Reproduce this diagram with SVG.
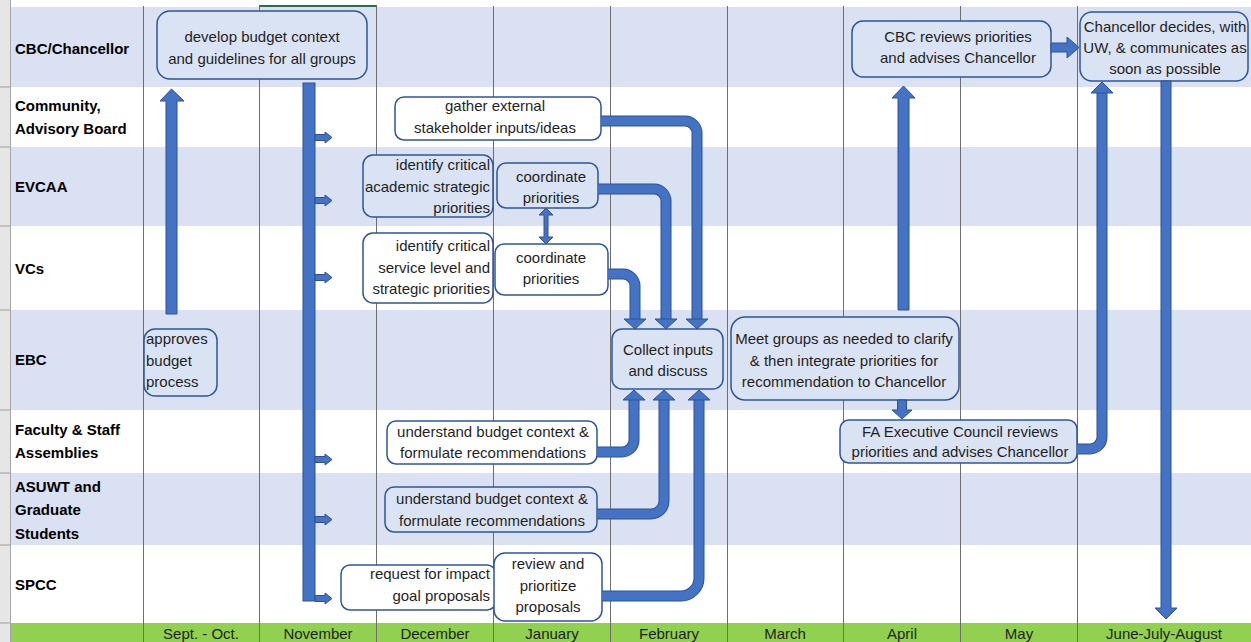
<svg xmlns="http://www.w3.org/2000/svg" width="1251" height="642" viewBox="0 0 1251 642">
<defs>
<style>
.sh{fill:#D9E1F2}
.wh{fill:#FFFFFF}
.grid{stroke:#6E6E6E;stroke-width:1;fill:none}
.lbl{font-family:"Liberation Sans",Arial,sans-serif;font-size:15px;font-weight:bold;fill:#000}
.t{font-family:"Liberation Sans",Arial,sans-serif;font-size:15px;fill:#1F1F1F;text-anchor:middle}
.tr{text-anchor:end}
.tl{text-anchor:start}
.box{stroke:#2F5597;stroke-width:1.5}
.bf{fill:#DAE3F3}
.wf{fill:#FFFFFF}
.co{fill:none;stroke:#2F528F;stroke-width:11}
.ci{fill:none;stroke:#4472C4;stroke-width:9}
.ah{fill:#4472C4;stroke:#2F528F;stroke-width:1;stroke-linejoin:miter}
.mon{font-family:"Liberation Sans",Arial,sans-serif;font-size:15px;fill:#1F1F1F;text-anchor:middle}
</style>
</defs>

<!-- background rows -->
<g id="background">
<rect x="0" y="0" width="1251" height="642" fill="#FFFFFF"/>
<rect x="11" y="7" width="1240" height="80" class="sh"/>
<rect x="11" y="87" width="1240" height="60" class="wh"/>
<rect x="11" y="147" width="1240" height="79" class="sh"/>
<rect x="11" y="226" width="1240" height="84" class="wh"/>
<rect x="11" y="310" width="1240" height="100" class="sh"/>
<rect x="11" y="410" width="1240" height="63" class="wh"/>
<rect x="11" y="473" width="1240" height="72" class="sh"/>
<rect x="11" y="545" width="1240" height="78" class="wh"/>
<rect x="11" y="623" width="1240" height="19" fill="#92D050"/>
<rect x="0" y="0" width="10" height="642" fill="#E6E6E6"/>
<g stroke="#9E9E9E" stroke-width="1">
<line x1="0" y1="87" x2="10" y2="87"/><line x1="0" y1="147" x2="10" y2="147"/>
<line x1="0" y1="226" x2="10" y2="226"/><line x1="0" y1="310" x2="10" y2="310"/>
<line x1="0" y1="410" x2="10" y2="410"/><line x1="0" y1="473" x2="10" y2="473"/>
<line x1="0" y1="545" x2="10" y2="545"/><line x1="0" y1="623" x2="10" y2="623"/>
</g>
<line x1="10.5" y1="0" x2="10.5" y2="642" stroke="#A6A6A6" stroke-width="1"/>
<line x1="259" y1="6" x2="377" y2="6" stroke="#217346" stroke-width="2"/>
</g>

<g id="grid" class="grid">
<line x1="143.5" y1="6" x2="143.5" y2="642"/>
<line x1="259.5" y1="6" x2="259.5" y2="642"/>
<line x1="376.5" y1="6" x2="376.5" y2="642"/>
<line x1="493.5" y1="6" x2="493.5" y2="642"/>
<line x1="610.5" y1="6" x2="610.5" y2="642"/>
<line x1="727.5" y1="6" x2="727.5" y2="642"/>
<line x1="843.5" y1="6" x2="843.5" y2="642"/>
<line x1="960.5" y1="6" x2="960.5" y2="642"/>
<line x1="1077.5" y1="6" x2="1077.5" y2="642"/>
</g>

<g id="row-labels">
<text class="lbl" x="15" y="54">CBC/Chancellor</text>
<text class="lbl" x="15" y="111">Community,</text>
<text class="lbl" x="15" y="134">Advisory Board</text>
<text class="lbl" x="15" y="192">EVCAA</text>
<text class="lbl" x="15" y="274">VCs</text>
<text class="lbl" x="15" y="365">EBC</text>
<text class="lbl" x="15" y="435">Faculty &amp; Staff</text>
<text class="lbl" x="15" y="458">Assemblies</text>
<text class="lbl" x="15" y="492">ASUWT and</text>
<text class="lbl" x="15" y="515">Graduate</text>
<text class="lbl" x="15" y="539">Students</text>
<text class="lbl" x="15" y="590">SPCC</text>
</g>

<g id="month-labels">
<text class="mon" x="201" y="639">Sept. - Oct.</text>
<text class="mon" x="318" y="639">November</text>
<text class="mon" x="435" y="639">December</text>
<text class="mon" x="552" y="639">January</text>
<text class="mon" x="669" y="639">February</text>
<text class="mon" x="785" y="639">March</text>
<text class="mon" x="902" y="639">April</text>
<text class="mon" x="1019" y="639">May</text>
<text class="mon" x="1164" y="639">June-July-August</text>
</g>

<!-- nodes -->
<g id="n-develop">
<rect class="box bf" x="157" y="11" width="210" height="68" rx="13"/>
<text class="t" x="262" y="42">develop budget context</text>
<text class="t" x="262" y="64">and guidelines for all groups</text>
</g>
<g id="n-gather">
<rect class="box wf" x="395" y="97" width="206" height="43" rx="9"/>
<text class="t" x="495" y="111">gather external</text>
<text class="t" x="495" y="133">stakeholder inputs/ideas</text>
</g>
<g id="n-identify-academic">
<rect class="box bf" x="363" y="155" width="130" height="62" rx="10"/>
<text class="t tr" x="490" y="170">identify critical</text>
<text class="t tr" x="490" y="192">academic strategic</text>
<text class="t tr" x="490" y="213">priorities</text>
</g>
<g id="n-coord-evcaa">
<rect class="box bf" x="497" y="163" width="101" height="45" rx="9"/>
<text class="t" x="551" y="182">coordinate</text>
<text class="t" x="551" y="203">priorities</text>
</g>
<g id="n-identify-service">
<rect class="box wf" x="363" y="233" width="130" height="70" rx="10"/>
<text class="t tr" x="490" y="251">identify critical</text>
<text class="t tr" x="490" y="273">service level and</text>
<text class="t tr" x="490" y="294">strategic priorities</text>
</g>
<g id="n-coord-vcs">
<rect class="box wf" x="495" y="244" width="113" height="51" rx="9"/>
<text class="t" x="551" y="263">coordinate</text>
<text class="t" x="551" y="284">priorities</text>
</g>
<g id="n-approves">
<rect class="box bf" x="144" y="329" width="73" height="67" rx="11"/>
<text class="t tl" x="146" y="344">approves</text>
<text class="t tl" x="146" y="366">budget</text>
<text class="t tl" x="146" y="387">process</text>
</g>
<g id="n-collect">
<rect class="box bf" x="612" y="329" width="111" height="60" rx="10"/>
<text class="t" x="668" y="355">Collect inputs</text>
<text class="t" x="668" y="376">and discuss</text>
</g>
<g id="n-meet">
<rect class="box bf" x="731" y="317" width="228" height="83" rx="14"/>
<text class="t" x="844" y="344">Meet groups as needed to clarify</text>
<text class="t" x="844" y="366">&amp; then integrate priorities for</text>
<text class="t" x="844" y="387">recommendation to Chancellor</text>
</g>
<g id="n-fa">
<rect class="box bf" x="840" y="420" width="237" height="43" rx="9"/>
<text class="t" x="960" y="437">FA Executive Council reviews</text>
<text class="t" x="960" y="457">priorities and advises Chancellor</text>
</g>
<g id="n-cbc-reviews">
<rect class="box bf" x="852" y="21" width="199" height="56" rx="11"/>
<text class="t" x="958" y="42">CBC reviews priorities</text>
<text class="t" x="958" y="63">and advises Chancellor</text>
</g>
<g id="n-chancellor">
<rect class="box bf" x="1080" y="12" width="168" height="69" rx="12"/>
<text class="t" x="1165" y="32">Chancellor decides, with</text>
<text class="t" x="1165" y="53">UW, &amp; communicates as</text>
<text class="t" x="1165" y="74">soon as possible</text>
</g>
<g id="n-understand-fac">
<rect class="box wf" x="387" y="421" width="210" height="43" rx="9"/>
<text class="t" x="493" y="437">understand budget context &amp;</text>
<text class="t" x="493" y="458">formulate recommendations</text>
</g>
<g id="n-understand-asuwt">
<rect class="box bf" x="385" y="487" width="212" height="45" rx="9"/>
<text class="t" x="492" y="504">understand budget context &amp;</text>
<text class="t" x="492" y="526">formulate recommendations</text>
</g>
<g id="n-request">
<rect class="box wf" x="341" y="565" width="155" height="45" rx="9"/>
<text class="t tr" x="490" y="579">request for impact</text>
<text class="t tr" x="490" y="601">goal proposals</text>
</g>
<g id="n-review">
<rect class="box wf" x="494" y="553" width="108" height="68" rx="11"/>
<text class="t" x="548" y="569">review and</text>
<text class="t" x="548" y="591">prioritize</text>
<text class="t" x="548" y="612">proposals</text>
</g>

<!-- connectors -->
<g id="connectors">
<!-- Sept-Oct up arrow -->
<polygon class="ah" points="166,314 177,314 177,101 184,101 171.5,89 160,101 166,101"/>
<!-- November distribution bar -->
<rect class="ah" x="303" y="83" width="12" height="518"/>
<g class="ah">
<polygon points="315,134.5 325,134.5 325,132 332,137.5 325,143 325,140.5 315,140.5"/>
<polygon points="315,197.5 325,197.5 325,195 332,200.5 325,206 325,203.5 315,203.5"/>
<polygon points="315,274.5 325,274.5 325,272 332,277.5 325,283 325,280.5 315,280.5"/>
<polygon points="315,456.5 325,456.5 325,454 332,459.5 325,465 325,462.5 315,462.5"/>
<polygon points="315,516.5 325,516.5 325,514 332,519.5 325,525 325,522.5 315,522.5"/>
<polygon points="315,595.5 325,595.5 325,593 332,598.5 325,604 325,601.5 315,601.5"/>
</g>
<!-- double arrow between coordinate boxes -->
<polygon class="ah" points="546,208 553,215 548,215 548,237 553,237 546,244 539,237 544,237 544,215 539,215"/>
<!-- curved connectors into Collect -->
<path class="co" d="M601,121 H685 A12,12 0 0 1 697,133 V320"/>
<path class="ci" d="M601,121 H685 A12,12 0 0 1 697,133 V320"/>
<path class="co" d="M598,189 H654 A12,12 0 0 1 666,201 V320"/>
<path class="ci" d="M598,189 H654 A12,12 0 0 1 666,201 V320"/>
<path class="co" d="M608,274 H623 A12,12 0 0 1 635,286 V320"/>
<path class="ci" d="M608,274 H623 A12,12 0 0 1 635,286 V320"/>
<polygon class="ah" points="686,319 708,319 697,329"/>
<polygon class="ah" points="655,319 677,319 666,329"/>
<polygon class="ah" points="624,319 646,319 635,329"/>
<path class="co" d="M597,452 H622 A12,12 0 0 0 634,440 V399"/>
<path class="ci" d="M597,452 H622 A12,12 0 0 0 634,440 V399"/>
<path class="co" d="M597,514 H651 A13,13 0 0 0 664,501 V399"/>
<path class="ci" d="M597,514 H651 A13,13 0 0 0 664,501 V399"/>
<path class="co" d="M602,596 H681 A18,18 0 0 0 699,578 V399"/>
<path class="ci" d="M602,596 H681 A18,18 0 0 0 699,578 V399"/>
<polygon class="ah" points="623,400 645,400 634,390"/>
<polygon class="ah" points="653,400 675,400 664,390"/>
<polygon class="ah" points="688,400 710,400 699,390"/>
<!-- Meet -> CBC reviews -->
<polygon class="ah" points="898,310 909,310 909,98 915,98 903.5,86 892,98 898,98"/>
<!-- Meet -> FA -->
<polygon class="ah" points="897.5,400 906.5,400 906.5,410 912,410 902,419 892,410 897.5,410"/>
<!-- CBC reviews -> Chancellor -->
<polygon class="ah" points="1051,43 1067,43 1067,37 1079,47.5 1067,58 1067,52 1051,52"/>
<!-- FA -> Chancellor -->
<path class="co" d="M1077,449 H1090 A12,12 0 0 0 1102,437 V92"/>
<path class="ci" d="M1077,449 H1090 A12,12 0 0 0 1102,437 V92"/>
<polygon class="ah" points="1091,93 1113,93 1102,82"/>
<!-- Chancellor down -->
<polygon class="ah" points="1161,81 1171,81 1171,608 1177,608 1166,619 1155,608 1161,608"/>
</g>
</svg>
